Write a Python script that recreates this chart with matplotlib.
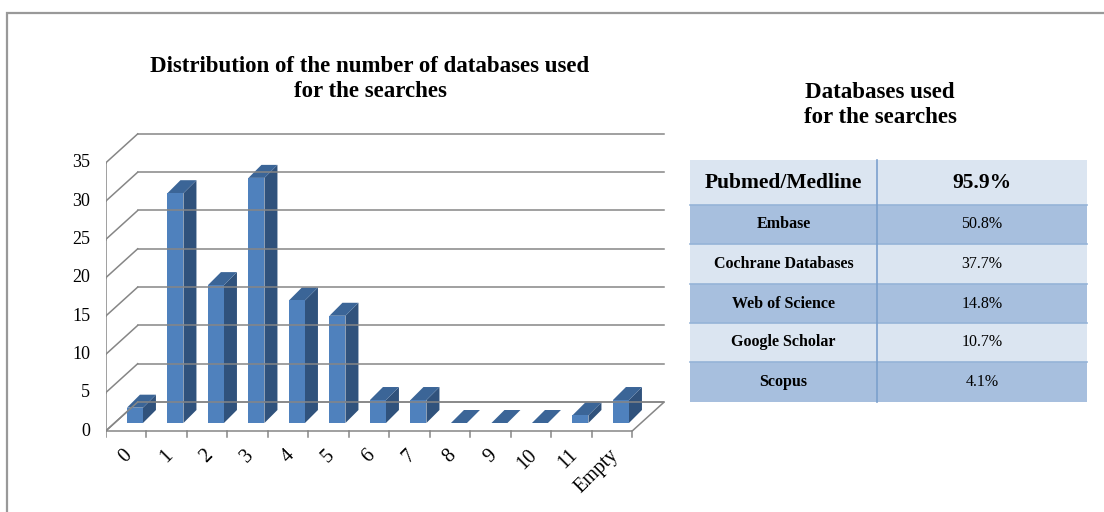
import matplotlib.pyplot as plt
from matplotlib.patches import Polygon, Rectangle

plt.rcParams['font.family'] = ['Liberation Serif', 'DejaVu Serif']

# data
categories = ['0', '1', '2', '3', '4', '5', '6', '7', '8', '9', '10', '11', 'Empty']
counts = [2, 30, 18, 32, 16, 14, 3, 3, 0, 0, 0, 1, 3]
yticks = [0, 5, 10, 15, 20, 25, 30, 35]

databases = ['Pubmed/Medline', 'Embase', 'Cochrane Databases', 'Web of Science',
             'Google Scholar', 'Scopus']
shares = ['95.9%', '50.8%', '37.7%', '14.8%', '10.7%', '4.1%']

W, H = 1104, 512
fig = plt.figure(figsize=(W / 100, H / 100), dpi=100)

# outer frame
fig.add_artist(Rectangle((7 / W, -0.1), 1.2, (H - 13) / H + 0.1, transform=fig.transFigure,
                         fill=False, edgecolor='#999999', linewidth=1.6))

# pseudo 3d bar chart: 1 category = 40.5 px, 1 unit = 7.66 px
px_x, px_y = 40.5, 7.66
ax = fig.add_axes([105.7 / W, (H - 431 - 3 * px_y) / H, 14 * px_x / W, 43 * px_y / H])
ax.set_xlim(-0.5, 13.5)
ax.set_ylim(-3, 40)
ax.axis('off')

n = len(categories)
grid_c = '#868686'
dx, dy = 32 / px_x, 29 / px_y          # back wall offset
bx, by = 9 / px_x, 8 / px_y            # bar front offset
bd_x, bd_y = 13 / px_x, 13 / px_y      # bar depth
bw = 16 / px_x                         # bar width
x0, x1 = -0.5, n - 0.5

# floor
ax.add_patch(Polygon([(x0, 0), (x1, 0), (x1 + dx, dy), (x0 + dx, dy)], closed=True,
                     facecolor='white', edgecolor=grid_c, linewidth=1.1))
# back wall gridlines + left wall diagonals
for v in yticks:
    ax.plot([x0 + dx, x1 + dx], [v + dy, v + dy], color=grid_c, lw=1.1)
    ax.plot([x0, x0 + dx], [v, v + dy], color=grid_c, lw=1.1)
    ax.plot([x0 - 0.12, x0], [v, v], color=grid_c, lw=1.1)
    ax.text(x0 - 0.38, v, str(v), ha='right', va='center', fontsize=13)
ax.plot([x0, x0], [0, yticks[-1]], color=grid_c, lw=1.1)
# category ticks on the front edge
for i in range(n + 1):
    ax.plot([x0 + i, x0 + i], [0, -0.8], color=grid_c, lw=1.1)

front_c, top_c, side_c = '#4f81bd', '#3b6597', '#30527c'
for i, v in enumerate(counts):
    left = i + bx - bw / 2
    b = by
    t = by + v
    r = left + bw
    ax.add_patch(Polygon([(r, b), (r + bd_x, b + bd_y), (r + bd_x, t + bd_y), (r, t)],
                         closed=True, facecolor=side_c, edgecolor='none'))
    ax.add_patch(Polygon([(left, t), (r, t), (r + bd_x, t + bd_y), (left + bd_x, t + bd_y)],
                         closed=True, facecolor=top_c, edgecolor='none'))
    if v > 0:
        ax.bar(left, v, width=bw, bottom=b, align='edge', color=front_c, edgecolor='none')
    ax.text(i - 0.08, -1.9, categories[i], rotation=45, rotation_mode='anchor',
            ha='right', va='top', fontsize=14.5)

fig.text(370 / W, 1 - 79 / H, 'Distribution of the number of databases used\nfor the searches',
         ha='center', va='center', fontsize=16.5, fontweight='bold', linespacing=1.25)
fig.text(880 / W, 1 - 105 / H, 'Databases used\nfor the searches',
         ha='center', va='center', fontsize=16.5, fontweight='bold', linespacing=1.25)

# table
tax = fig.add_axes([0, 0, 1, 1])
tax.set_xlim(0, W)
tax.set_ylim(H, 0)
tax.axis('off')
row_edges = [160, 205, 244, 284, 323, 362, 402]
cx0, cx1, cx2 = 690, 877, 1087
light, dark = '#dbe5f1', '#a7bfde'
for k in range(len(databases)):
    y0, y1 = row_edges[k], row_edges[k + 1]
    c = light if k % 2 == 0 else dark
    tax.add_patch(Rectangle((cx0, y0), cx2 - cx0, y1 - y0, facecolor=c, edgecolor='none'))
    if k > 0:
        tax.plot([cx0, cx2], [y0, y0], color='#95b3d7', lw=1.2)
    ym = (y0 + y1) / 2
    if k == 0:
        tax.text((cx0 + cx1) / 2, ym, databases[k], ha='center', va='center',
                 fontsize=15.5, fontweight='bold')
        tax.text((cx1 + cx2) / 2, ym, shares[k], ha='center', va='center',
                 fontsize=15.5, fontweight='bold')
    else:
        tax.text((cx0 + cx1) / 2, ym, databases[k], ha='center', va='center',
                 fontsize=11.5, fontweight='bold')
        tax.text((cx1 + cx2) / 2, ym, shares[k], ha='center', va='center', fontsize=11.5)
tax.plot([cx1, cx1], [row_edges[0], row_edges[-1]], color='#7ba0cd', lw=1.2)

fig.savefig('out.png', dpi=100)
